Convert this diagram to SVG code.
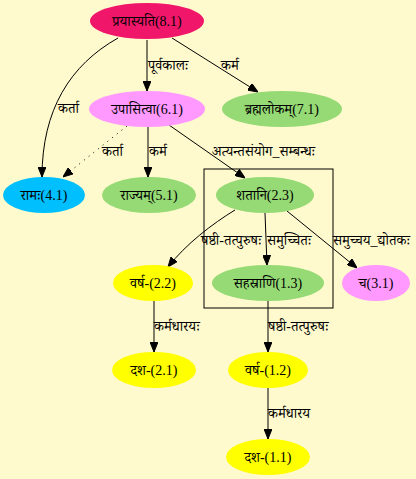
<svg xmlns="http://www.w3.org/2000/svg" width="416" height="479" viewBox="0 0 416 479">
  <defs>
    <marker id="arrow" markerWidth="10" markerHeight="8" refX="10" refY="4" orient="auto" markerUnits="userSpaceOnUse">
      <path d="M0,0 L10,4 L0,8 Z" fill="#000" stroke="#000"/>
    </marker>
    <style>
      text { font-family: "Liberation Serif", "Noto Serif Devanagari", "Noto Sans Devanagari", serif; font-size: 14px; fill: #000; }
      .node text { text-anchor: middle; dominant-baseline: central; }
      .edge { fill: none; stroke: #000; stroke-width: 1; marker-end: url(#arrow); }
      .dotted { stroke-dasharray: 1 5; }
      .pink { fill: #f0176a; }
      .violet { fill: #ff99ff; }
      .green { fill: #95da74; }
      .blue { fill: #00bfff; }
      .yellow { fill: #ffff00; }
    </style>
  </defs>

  <rect width="416" height="479" fill="#fffacd"/>

  <!-- cluster around the compound group -->
  <rect x="204" y="169" width="129" height="139" fill="none" stroke="#000"/>

  <g id="connectors">
    <path class="edge" d="M118,38 C70,65 42,110 42,177"/>
    <text x="58" y="113">कर्ता</text>

    <path class="edge" d="M147,40 L147,91"/>
    <text x="148" y="70">पूर्वकालः</text>

    <path class="edge" d="M172,38 L258,92"/>
    <text x="221" y="70">कर्म</text>

    <path class="edge dotted" d="M127,126 L63,177"/>
    <text x="102" y="156">कर्ता</text>

    <path class="edge" d="M148,127 L148,177"/>
    <text x="149" y="156">कर्म</text>

    <path class="edge" d="M169,125 L245,178"/>
    <text x="212" y="156">अत्यन्तसंयोग_सम्बन्धः</text>

    <path class="edge" d="M235,210 C212,224 186,244 168,267"/>
    <text x="201" y="245">षष्ठी-तत्पुरुषः</text>

    <path class="edge" d="M265,213 L267,265"/>
    <text x="267" y="245">समुच्चितः</text>

    <path class="edge" d="M287,211 L357,268"/>
    <text x="333" y="245">समुच्चय_द्योतकः</text>

    <path class="edge" d="M154,301 L154,352"/>
    <text x="154" y="331">कर्मधारयः</text>

    <path class="edge" d="M268,301 L268,352"/>
    <text x="268" y="331">षष्ठी-तत्पुरुषः</text>

    <path class="edge" d="M268,388 L268,439"/>
    <text x="268" y="418">कर्मधारय</text>
  </g>

  <g id="n8_1" class="node">
    <ellipse class="pink" cx="147" cy="21" rx="57" ry="18"/>
    <text x="147" y="21">प्रयास्यति(8.1)</text>
  </g>
  <g id="n6_1" class="node">
    <ellipse class="violet" cx="147" cy="109" rx="58" ry="18"/>
    <text x="147" y="109">उपासित्वा(6.1)</text>
  </g>
  <g id="n7_1" class="node">
    <ellipse class="green" cx="282" cy="109" rx="60" ry="18"/>
    <text x="282" y="109">ब्रह्मलोकम्(7.1)</text>
  </g>
  <g id="n4_1" class="node">
    <ellipse class="blue" cx="44" cy="195" rx="41" ry="18"/>
    <text x="44" y="195">रामः(4.1)</text>
  </g>
  <g id="n5_1" class="node">
    <ellipse class="green" cx="149" cy="195" rx="47" ry="18"/>
    <text x="149" y="195">राज्यम्(5.1)</text>
  </g>
  <g id="n2_3" class="node">
    <ellipse class="green" cx="265" cy="195" rx="49" ry="18"/>
    <text x="265" y="195">शतानि(2.3)</text>
  </g>
  <g id="n2_2" class="node">
    <ellipse class="yellow" cx="153" cy="283" rx="40" ry="18"/>
    <text x="153" y="283">वर्ष-(2.2)</text>
  </g>
  <g id="n1_3" class="node">
    <ellipse class="green" cx="268" cy="283" rx="56" ry="18"/>
    <text x="268" y="283">सहस्राणि(1.3)</text>
  </g>
  <g id="n3_1" class="node">
    <ellipse class="violet" cx="376" cy="283" rx="34" ry="18"/>
    <text x="376" y="283">च(3.1)</text>
  </g>
  <g id="n2_1" class="node">
    <ellipse class="yellow" cx="154" cy="370" rx="42" ry="18"/>
    <text x="154" y="370">दश-(2.1)</text>
  </g>
  <g id="n1_2" class="node">
    <ellipse class="yellow" cx="268" cy="370" rx="40" ry="18"/>
    <text x="268" y="370">वर्ष-(1.2)</text>
  </g>
  <g id="n1_1" class="node">
    <ellipse class="yellow" cx="268" cy="457" rx="42" ry="18"/>
    <text x="268" y="457">दश-(1.1)</text>
  </g>
</svg>
